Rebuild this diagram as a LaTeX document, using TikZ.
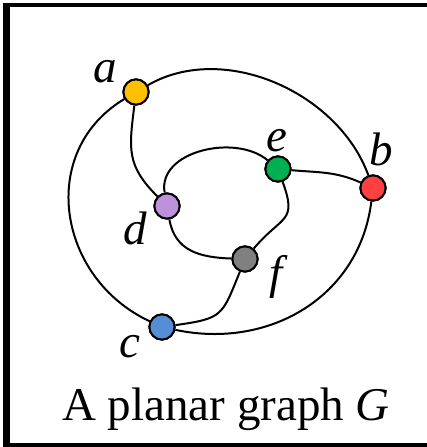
\documentclass[tikz,border=0pt]{standalone}
\usepackage{fontspec}
\setmainfont{Liberation Serif}
\usepackage{xcolor}
\usepackage{tikz}
\definecolor{vtxYellow}{RGB}{255, 192, 0}
\definecolor{vtxRed}{RGB}{255, 64, 64}
\definecolor{vtxBlue}{RGB}{85, 142, 213}
\definecolor{vtxPurple}{RGB}{190, 145, 220}
\definecolor{vtxGreen}{RGB}{0, 176, 80}
\definecolor{vtxGray}{RGB}{128, 128, 128}

\begin{document}
\begin{tikzpicture}[
                x=0.5pt, y=-0.5pt,
                vertex/.style={circle, draw=black, line width=1pt, minimum size=12.6pt, inner sep=0pt},
                lab/.style={inner sep=0pt, font=\fontsize{23.5}{28}\selectfont\itshape},
                link/.style={line width=1pt},
                frame/.style={draw=black, line width=2.3pt}
            ]
                \useasboundingbox (0,0) rectangle (427,447);

                % --- FRAME ---
                \draw[frame] (440,5) rectangle (6.7,445.5);
                \draw[line width=3.35pt] (6.7,2.7) -- (6.7,447);

                % --- VERTICES ---
                \node[vertex, fill=vtxYellow] (a) at (136,92) {};
                \node[vertex, fill=vtxRed] (b) at (373,188) {};
                \node[vertex, fill=vtxBlue] (c) at (162,327) {};
                \node[vertex, fill=vtxPurple] (d) at (167,206) {};
                \node[vertex, fill=vtxGreen] (e) at (278,169) {};
                \node[vertex, fill=vtxGray] (f) at (245,259) {};

                % --- LABELS ---
                \node[lab] (la) at (105,72) {a};
                \node[lab] (lb) at (381,149) {b};
                \node[lab] (lc) at (130,347) {c};
                \node[lab] (ld) at (135,228) {d};
                \node[lab] (le) at (277,141) {e};
                \node[lab] (lf) at (276,277) {f};

                % Outer cycle
                \draw[link] (a) to[out=30, in=110, distance=44pt] (b);
                \draw[link] (b) to[out=-97, in=-12, distance=48pt] (c);
                \draw[link] (c) to[out=155, in=211, distance=51pt] (a);

                % Inner cycle
                \draw[link] (d) to[out=100, in=140, distance=21pt] (e);
                \draw[link] (e) to[out=-70, in=50, distance=22pt] (f);
                \draw[link] (f) to[out=178, in=-80, distance=16pt] (d);

                % Spokes
                \draw[link] (a) to[out=-97, in=135, distance=22pt] (d);
                \draw[link] (e) to[out=-5, in=156] (b);
                \draw[link] (f) to[out=-112, in=8, distance=24pt] (c);

                % Redraw vertices on top of the lines
                \foreach \v/\col in {a/vtxYellow, b/vtxRed, c/vtxBlue, d/vtxPurple, e/vtxGreen, f/vtxGray}
                    \fill[\col, draw=black, line width=1pt] (\v) circle (6.3pt);

                % --- CAPTION ---
                \node[anchor=base, inner sep=0pt, font=\fontsize{23.5}{28}\selectfont] (caption) at (226,420) {A planar graph \textit{G}};
\end{tikzpicture}
\end{document}
